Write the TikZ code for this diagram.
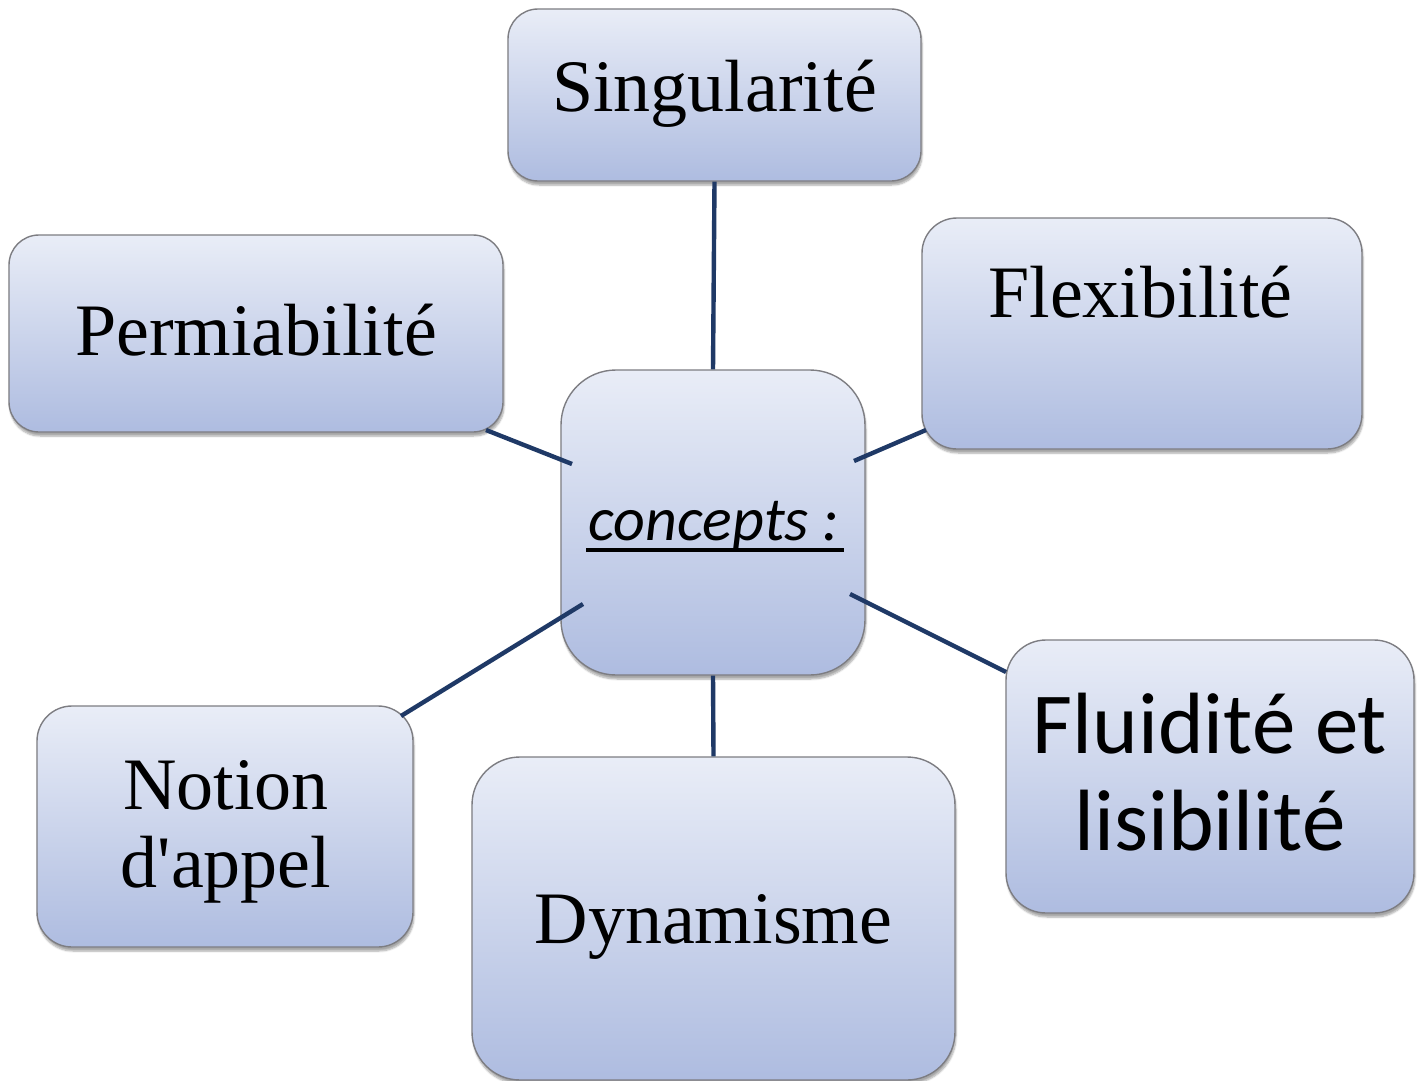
\documentclass[tikz,border=0pt]{standalone}
\usepackage{fontspec}
\setmainfont{Liberation Serif}
\newfontfamily\tnrfont{Liberation Serif}
\newfontfamily\calfont{Carlito}
\usetikzlibrary{shadows.blur}
\definecolor{boxtop}{RGB}{233,237,247}
\definecolor{boxbot}{RGB}{174,188,224}
\definecolor{boxedge}{RGB}{125,125,130}
\definecolor{linkc}{RGB}{31,57,102}
\tikzset{
  box/.style={rectangle, draw=boxedge, line width=1.4pt, top color=boxtop, bottom color=boxbot,
    inner sep=0pt, blur shadow={shadow xshift=1pt, shadow yshift=-4pt, shadow blur steps=6, shadow opacity=35}},
  lbl/.style={inner sep=0pt, anchor=base, font=\tnrfont\fontsize{74}{78}\selectfont, align=center},
  clbl/.style={inner sep=0pt, anchor=base, font=\calfont\fontsize{87}{97}\selectfont, align=center},
  link/.style={draw=linkc, line width=4.4pt}
}
\begin{document}
\begin{tikzpicture}[x=1pt,y=-1pt]
\useasboundingbox (0,0) rectangle (1421,1081);
% boxes
\node[box, rounded corners=30pt, minimum width=413pt, minimum height=172pt] (sing) at (714.5,95) {};
\node[box, rounded corners=30pt, minimum width=494pt, minimum height=197pt] (perm) at (256,333.5) {};
\node[box, rounded corners=35pt, minimum width=440pt, minimum height=231pt] (flex) at (1142,333.5) {};
\node[box, rounded corners=55pt, minimum width=304pt, minimum height=305pt] (conc) at (713,522.5) {};
\node[box, rounded corners=35pt, minimum width=376pt, minimum height=241pt] (noti) at (225,826.5) {};
\node[box, rounded corners=48pt, minimum width=483pt, minimum height=323pt] (dyna) at (713.5,918.5) {};
\node[box, rounded corners=40pt, minimum width=408pt, minimum height=273pt] (flui) at (1210,776.5) {};
% texts
\node[lbl] (singT) at (714.5,111) {Singularité};
\node[lbl] (permT) at (256,355) {Permiabilité};
\node[lbl] (flexT) at (1140.5,317) {Flexibilité};
\node[lbl] (notiT) at (226,887) {Notion\\d'appel};
\node[lbl] (dynaT) at (713.5,943) {Dynamisme};
\node[clbl] (fluiT) at (1210,850) {Fluidité et\\lisibilité};
\node[inner sep=0pt, anchor=base, font=\calfont\itshape\fontsize{62}{70}\selectfont] (concT) at (714,540) {concepts :};
\draw[line width=3.4pt] ([xshift=-2pt,yshift=-10pt]concT.base west) -- ([xshift=4pt,yshift=-10pt]concT.base east);
% connectors
\coordinate (pA) at (486,430); \coordinate (pB) at (572,464);
\coordinate (fA) at (926,430); \coordinate (fB) at (854,461);
\coordinate (nA) at (401,716); \coordinate (nB) at (583,604);
\coordinate (lA) at (1006,672); \coordinate (lB) at (850,594);
\draw[link] (sing.south) -- (conc.north);
\draw[link] (dyna.north) -- (conc.south);
\draw[link] (pA) -- (pB);
\draw[link] (fA) -- (fB);
\draw[link] (nA) -- (nB);
\draw[link] (lA) -- (lB);
\end{tikzpicture}
\end{document}
